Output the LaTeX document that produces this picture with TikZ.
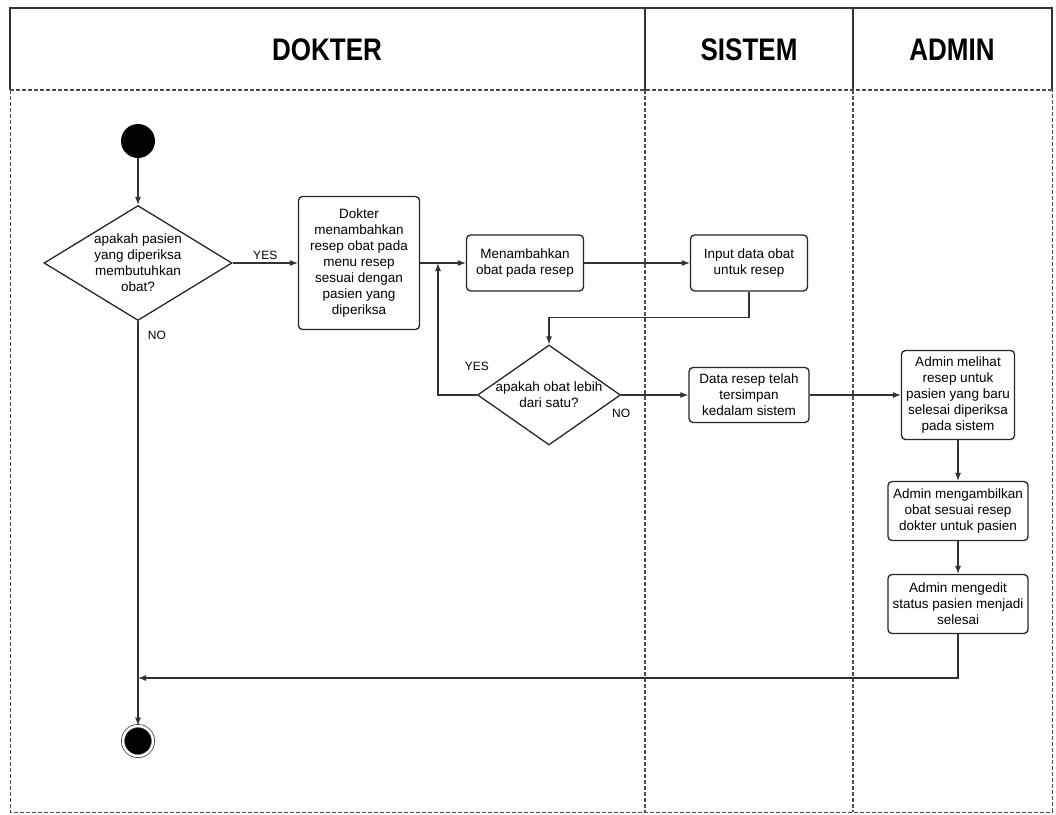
\documentclass[tikz,border=0pt]{standalone}
\usepackage{fontspec}
\setmainfont{Liberation Sans}
\usetikzlibrary{positioning}
\usetikzlibrary{shapes}
\usetikzlibrary{arrows.meta}

\begin{document}
\begin{tikzpicture}[x=1pt,y=-1pt,align=center,font=\fontsize{13.5}{16}\selectfont,
>={Latex[length=8pt,width=6pt]},
aksi/.style={draw=black!85,line width=1.3pt,rounded corners=4pt,inner sep=1pt},
putusan/.style={draw=black!85,line width=1.3pt,diamond,inner sep=0pt},
teksC/.style={anchor=center},
ket/.style={font=\fontsize{12}{14}\selectfont},
jalur/.style={font=\bfseries\fontsize{26}{30}\selectfont},
garis/.style={draw=black!80,line width=1.1pt},
batas/.style={draw=black!70,line width=1pt,dash pattern=on 4pt off 2pt},
awal/.style={circle,fill=black,minimum size=34pt,inner sep=0pt},
akhir/.style={circle,fill=black,draw=black!80,double=white,double distance=2.5pt,line width=0.7pt,minimum size=30pt,inner sep=0pt}
]
\useasboundingbox (0,0) rectangle (1056,814);
%-- lanes
\draw[garis,line width=1.3pt] (10,90) -- (10,8) -- (1052,8) -- (1052,90);
\draw[garis,line width=1.3pt] (645,8) -- (645,90);
\draw[garis,line width=1.3pt] (853,8) -- (853,90);
\draw[batas,line width=1.8pt] (10,90) -- (1052,90);
\draw[batas] (10,90) -- (10,812) -- (1052,812) -- (1052,90);
\draw[batas,line width=1.3pt] (645,90) -- (645,812);
\draw[batas,line width=1.3pt] (853,90) -- (853,812);
\node[jalur] (hd) at (327,50){\scalebox{1}[1.2]{DOKTER}};
\node[jalur] (hs) at (749,50){\scalebox{1}[1.2]{SISTEM}};
\node[jalur] (ha) at (952,50){\scalebox{1}[1.2]{ADMIN}};
%--
\node[awal] (st) at (138,141){};
\node[putusan,minimum width=188pt,minimum height=115pt] (d1) at (138,263){};
\node[teksC] at (d1.center){apakah pasien\\yang diperiksa\\membutuhkan\\obat?};
\draw[garis,->] (st) -- (d1);
%--
\node[aksi,minimum width=121pt,minimum height=133pt] (b1) at (359,263){Dokter\\menambahkan\\resep obat pada\\menu resep\\sesuai dengan\\pasien yang\\diperiksa};
\draw[garis,->] (d1.east) -- node[ket,above]{YES} (b1.west);
%--
\node[aksi,minimum width=117pt,minimum height=56pt] (b2) at (525,263){Menambahkan\\obat pada resep};
\draw[garis,->] (b1.east) -- (b2.west);
\node[aksi,minimum width=117pt,minimum height=56pt] (b3) at (749,263){Input data obat\\untuk resep};
\draw[garis,->] (b2) -- (b3);
%--
\node[putusan,minimum width=143pt,minimum height=100pt] (d2) at (549,395){};
\node[teksC] at (d2.center){apakah obat lebih\\dari satu?};
\draw[garis,->] (b3.south) -- ++(0,26) -| (d2.north);
\coordinate (j1) at (438,263);
\draw[garis,->] (d2.west) -| node[ket,pos=0,above=21pt]{YES} (j1);
%--
\node[aksi,minimum width=120pt,minimum height=55pt] (b4) at (749,395){Data resep telah\\tersimpan\\kedalam sistem};
\draw[garis,->] (d2.east) -- node[ket,pos=0,below=10pt]{NO} (b4.west);
%--
\node[aksi,minimum width=113pt,minimum height=89pt] (b5) at (958,395){Admin melihat\\resep untuk\\pasien yang baru\\selesai diperiksa\\pada sistem};
\draw[garis,->] (b4.east) -- (b5.west);
\node[aksi,minimum width=140pt,minimum height=59pt] (b6) at (958,511){Admin mengambilkan\\obat sesuai resep\\dokter untuk pasien};
\draw[garis,->] (b5) -- (b6);
\node[aksi,minimum width=140pt,minimum height=59pt] (b7) at (958,604){Admin mengedit\\status pasien menjadi\\selesai};
\draw[garis,->] (b6) -- (b7);
%--
\node[akhir] (en) at (138,741){};
\draw[garis,->] (d1.south) -- node[ket,pos=0.035,right=6pt]{NO} (en);
\coordinate (j2) at (138,678);
\draw[garis,->] (b7.south) |- (j2);
\end{tikzpicture}
\end{document}
